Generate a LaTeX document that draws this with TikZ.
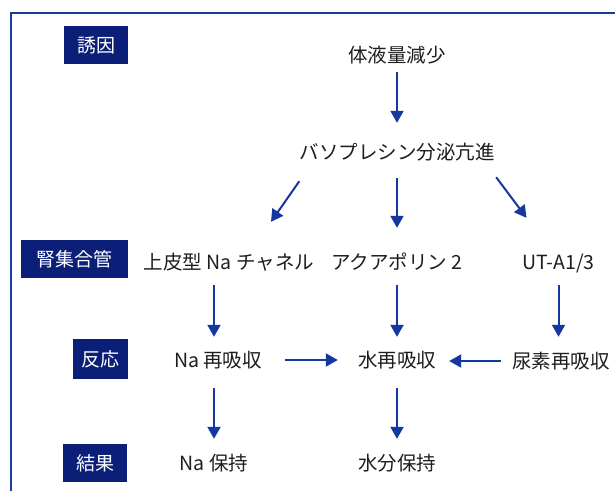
\documentclass[tikz,border=0pt]{standalone}
\usepackage{fontspec}
\setmainfont{Noto Sans CJK JP}
\usetikzlibrary{arrows.meta}
\definecolor{navy}{HTML}{0B1F78}
\definecolor{framec}{HTML}{1A3A9A}
\definecolor{arr}{HTML}{1537A0}
\definecolor{txt}{HTML}{1E1E1E}
\begin{document}
\begin{tikzpicture}[x=1pt,y=-1pt,
  lab/.style={fill=navy,text=white,font=\fontsize{19}{19}\selectfont,inner sep=0pt,minimum height=38pt},
  item/.style={text=txt,font=\fontsize{19.5}{20}\selectfont,inner sep=0pt,text height=16pt,text depth=2pt},
  ar/.style={draw=arr,line width=2pt,-{Triangle[width=13pt,length=12pt]}}]
\useasboundingbox (0,0) rectangle (615,490);
\fill[white] (0,0) rectangle (615,490);
\clip (0,0) rectangle (615,490);
\draw[framec, line width=1.5pt] (11,13) rectangle (640,520);
% labels
\node[lab,minimum width=64pt] (L1) at (96,45) {誘因};
\node[lab,minimum width=107pt] (L2) at (74.5,259) {腎集合管};
\node[lab,minimum width=55pt,minimum height=40pt] (L3) at (100.5,359) {反応};
\node[lab,minimum width=64pt] (L4) at (95,463) {結果};
% items
\node[item] (n1) at (397,55) {体液量減少};
\node[item] (n2) at (397,152) {バソプレシン分泌亢進};
\node[item] (a) at (229,262) {上皮型 Na チャネル};
\node[item] (b) at (397,262) {アクアポリン 2};
\node[item] (c) at (558.5,262) {UT-A1/3};
\node[item] (d) at (218,360) {Na 再吸収};
\node[item] (e) at (397,360) {水再吸収};
\node[item] (f) at (561,361) {尿素再吸収};
\node[item] (g) at (214,463) {Na 保持};
\node[item] (h) at (397,463) {水分保持};
% arrows
\draw[ar,shorten <=8pt,shorten >=20pt] (n1.south) -- (n2.north);
\draw[ar,shorten <=17pt,shorten >=25pt] (n2.south) -- (b.north);
\draw[ar] ([yshift=-20pt]n2.south west) -- ([xshift=42pt,yshift=31pt]a.north);
\draw[ar] ([xshift=1.5pt,yshift=-16pt]n2.south east) -- ([xshift=-32pt,yshift=35pt]c.north);
\draw[ar,shorten <=14pt,shorten >=14pt] (g |- a.south) -- (g |- d.north);
\draw[ar,shorten <=14pt,shorten >=14pt] (b.south) -- (e.north);
\draw[ar,shorten <=14pt,shorten >=15pt] (c.south) -- (c.south |- f.north);
\draw[ar,shorten <=23pt,shorten >=20pt] (d.east) -- (e.west);
\draw[ar,shorten <=11pt,shorten >=13pt] (f.west) -- (f.west -| e.east);
\draw[ar,shorten <=19pt,shorten >=15pt] (g |- d.south) -- (g.north);
\draw[ar,shorten <=19pt,shorten >=15pt] (e.south) -- (h.north);
\end{tikzpicture}
\end{document}
